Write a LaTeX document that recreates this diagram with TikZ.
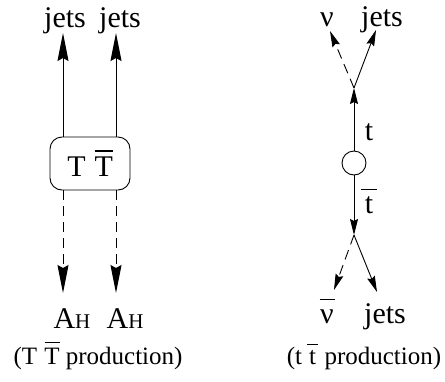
\documentclass[tikz,border=0pt]{standalone}
\usepackage{fontspec}
\setmainfont{Liberation Serif}
\usetikzlibrary{arrows.meta}

% letter with a bar over it: \ovl[bar height]{bar width}{letter}
\newcommand{\ovl}[3][0.76em]{\makebox[#2]{\rlap{\rule[#1]{#2}{0.045em}}\makebox[#2]{#3}}}
\newcommand{\subH}{{\fontsize{21}{24}\selectfont H}}

\begin{document}
\begin{tikzpicture}[x=1pt, y=-1pt,
  big/.style={-{Stealth[length=28pt, width=11pt, inset=3pt]}, line width=0.9pt},
  small/.style={-{Stealth[length=16pt, width=8pt, inset=2pt]}, line width=0.9pt},
  dsh/.style={dash pattern=on 10pt off 6pt},
  lab/.style={font=\fontsize{30}{36}\selectfont, inner sep=0pt, anchor=base},
  capt/.style={font=\fontsize{25}{30}\selectfont, inner sep=0pt, anchor=base}]
\useasboundingbox (0,0) rectangle (445,381);
% heavy pair
\node[draw, line width=0.9pt, rounded corners=12pt, minimum width=80pt,
  minimum height=53pt, inner sep=0pt, font=\fontsize{30}{36}\selectfont]
  (tt) at (90,163.5) {T\hspace{0.3em}\ovl[0.83em]{0.6em}{T}};
\node[lab] (j1) at (65,27) {jets};
\node[lab] (j2) at (120,27) {jets};
\node[lab] (a1) at (72,328) {A\subH};
\node[lab] (a2) at (125,328) {A\subH};
\coordinate (lj) at (63,33);
\coordinate (rj) at (116,33);
\coordinate (la) at (63,293);
\coordinate (ra) at (116,293);
\draw[big] (tt.north -| lj) -- (lj);
\draw[big] (tt.north -| rj) -- (rj);
\draw[big, dsh] (tt.south -| la) -- (la);
\draw[big, dsh] (tt.south -| ra) -- (ra);
\node[capt] (c1) at (98,364) {(T\hspace{0.3em}\ovl[0.83em]{0.6em}{T} production)};
% top pair
\node[draw, circle, line width=0.9pt, minimum size=24pt, inner sep=0pt] (c) at (354,163) {};
\coordinate (vt) at (354,88);
\coordinate (vb) at (354,235);
\coordinate (nt) at (330,31);
\coordinate (jt) at (376,30);
\coordinate (nb) at (334,290);
\coordinate (jb) at (377,292);
\draw[small] (c.north) -- (vt);
\draw[small] (c.south) -- (vb);
\draw[small, dsh] (vt) -- (nt);
\draw[small] (vt) -- (jt);
\draw[small, dsh] (vb) -- (nb);
\draw[small] (vb) -- (jb);
\node[lab] (t) at (369,140) {t};
\node[lab] (tb) at (369,213) {\ovl{0.55em}{t}};
\node[lab] (n1) at (327,26) {ν};
\node[lab] (j3) at (382,26) {jets};
\node[lab] (n2) at (327,323) {\ovl{0.5em}{ν}};
\node[lab] (j4) at (385,323) {jets};
\node[capt] (c2) at (364,364) {(t\hspace{0.2em}\ovl{0.45em}{t} production)};
\end{tikzpicture}
\end{document}
